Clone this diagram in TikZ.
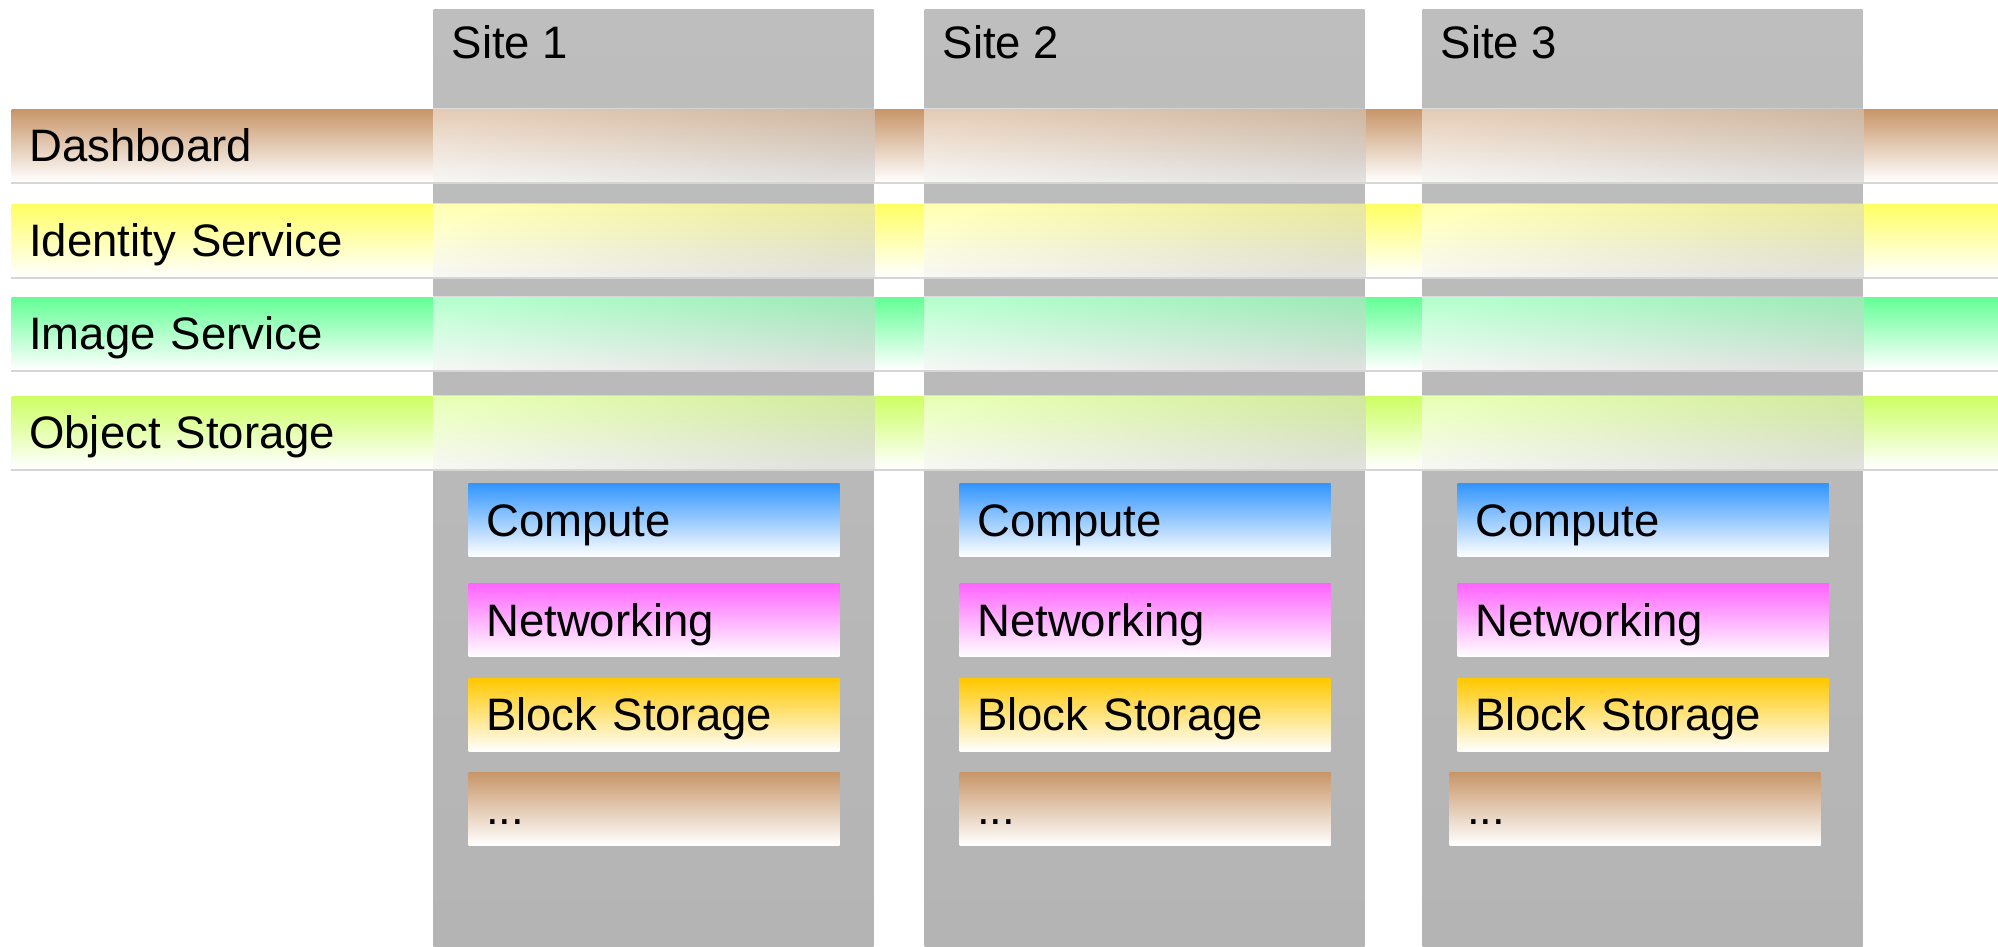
\documentclass[tikz,border=0pt]{standalone}
\usepackage{fontspec}
\setmainfont{Liberation Sans}
\usetikzlibrary{positioning}

\definecolor{dashtop}{RGB}{200,150,105}
\definecolor{identtop}{RGB}{255,255,100}
\definecolor{imagetop}{RGB}{100,255,150}
\definecolor{objtop}{RGB}{205,255,100}
\definecolor{computetop}{RGB}{50,150,255}
\definecolor{nettop}{RGB}{255,100,255}
\definecolor{blocktop}{RGB}{255,200,0}
\definecolor{sitegray}{RGB}{190,190,190}
\definecolor{sitegraylow}{RGB}{180,180,180}

\begin{document}
\begin{tikzpicture}[
  x=0.1mm, y=0.1mm,
  txt/.style={font=\fontsize{12.95}{15}\selectfont, text height=3.2mm, text depth=0pt},
  site/.style={anchor=north west, minimum width=44mm, minimum height=93.8mm, inner sep=0pt, top color=sitegray, bottom color=sitegraylow},
  sitelbl/.style={txt, anchor=base west, inner sep=0pt},
  band/.style={txt, anchor=north west, minimum width=198.7mm, minimum height=7.2mm, text width=195.2mm, inner xsep=1.75mm, inner ysep=0pt, align=left, top color=#1, bottom color=white},
  tile/.style={txt, anchor=north west, minimum width=37.1mm, minimum height=7.3mm, text width=33.6mm, inner xsep=1.75mm, inner ysep=0pt, align=left, top color=#1, bottom color=white},
  wash/.style={top color=white, bottom color=black!22, shading angle=20, fill opacity=0.5},
  bandedge/.style={draw=black!16, line width=0.2mm}
]
\useasboundingbox (0,0) rectangle (1998,947);

% Sites
\foreach \i/\x in {1/433, 2/924, 3/1422} {
  \node[site] (site\i) at (\x,938) {};
  \node[sitelbl] (site\i lbl) at (\x+18,888) {Site \i};
}

% Shared services
\node[band=dashtop] (dash) at (11,838) {Dashboard};
\node[band=identtop] (ident) at (11,743) {Identity Service};
\node[band=imagetop] (image) at (11,650) {Image Service};
\node[band=objtop] (obj) at (11,551) {Object Storage};

\foreach \i in {1,2,3}
  \foreach \b in {dash,ident,image,obj}
    \shade[wash] (site\i.west |- \b.north) rectangle (site\i.east |- \b.south);

\foreach \b in {dash,ident,image,obj}
  \draw[bandedge] ([yshift=-0.1mm]\b.south west) -- ([yshift=-0.1mm]\b.south east);

% Per-site services
\foreach \i/\x/\m in {1/433/0mm, 2/924/0mm, 3/1422/-0.8mm} {
  \node[tile=computetop] (comp\i) at (\x+35,464) {Compute};
  \node[tile=nettop, below=2.55mm of comp\i.south west, anchor=north west] (net\i) {Networking};
  \node[tile=blocktop, below=2.05mm of net\i.south west, anchor=north west] (block\i) {Block Storage};
  \node[tile=dashtop, below=1.95mm of block\i.south west, anchor=north west, xshift=\m] (more\i) {...};
}

\end{tikzpicture}
\end{document}
